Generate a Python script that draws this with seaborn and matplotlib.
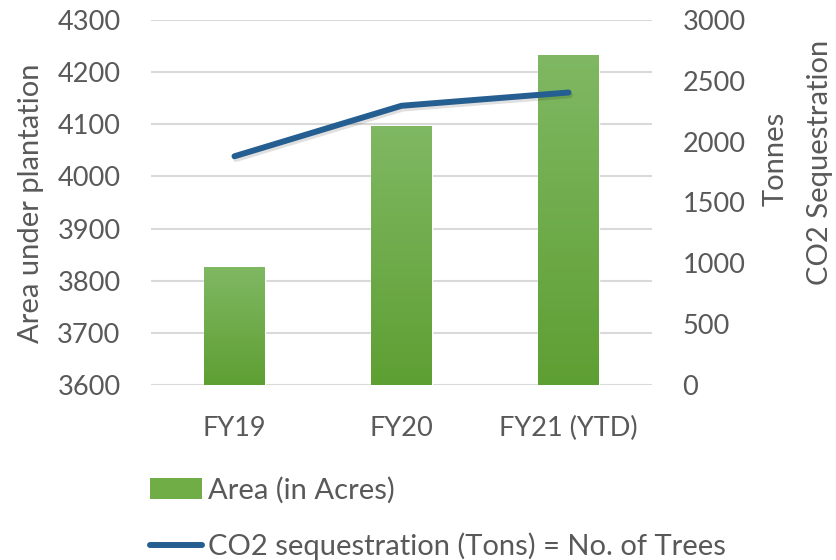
import numpy as np
import seaborn as sns
import matplotlib.pyplot as plt
from matplotlib.lines import Line2D
from matplotlib.patches import Patch
from matplotlib.colors import LinearSegmentedColormap
import matplotlib.patheffects as pe

# data
years = ["FY19", "FY20", "FY21 (YTD)"]
area_acres = [3827, 4097, 4233]
co2_tons = [1880, 2295, 2404]

sns.set_style("white")
plt.rcParams["font.family"] = ["Lato", "DejaVu Sans"]
grey = "#595959"
green = "#70AD47"
blue = "#255E91"

fig = plt.figure(figsize=(8.36, 5.6), dpi=100)
ax = fig.add_axes([151 / 836, 1 - 385 / 560, (652 - 151) / 836, 365 / 560])

sns.barplot(x=years, y=area_acres, ax=ax, color=green, width=0.36,
            saturation=1, zorder=2)
ax.set_ylim(3600, 4300)
ax.set_yticks(range(3600, 4301, 100))
ax.yaxis.grid(True, color="#d9d9d9", lw=1.5)
ax.set_axisbelow(True)

# vertical gradient on each bar
cmap = LinearSegmentedColormap.from_list("g", ["#5e9f33", "#80b863"])
grad = np.linspace(0, 1, 256).reshape(-1, 1)
for p in ax.patches:
    x0, w = p.get_x(), p.get_width()
    y0 = max(p.get_y(), ax.get_ylim()[0])
    y1 = p.get_y() + p.get_height()
    im = ax.imshow(grad, cmap=cmap, origin="lower", aspect="auto",
                   extent=[x0, x0 + w, y0, y1], zorder=3)
    im.set_clip_path(p)
ax.set_xlim(-0.5, 2.5)
ax.set_ylim(3600, 4300)

ax2 = ax.twinx()
sns.lineplot(x=years, y=co2_tons, ax=ax2, color=blue, lw=4.3,
             solid_capstyle="round", solid_joinstyle="round",
             path_effects=[pe.SimpleLineShadow(offset=(1, -2), alpha=0.12),
                           pe.Normal()])
ax2.set_ylim(0, 3000)
ax2.set_yticks(range(0, 3001, 500))

for a in (ax, ax2):
    sns.despine(ax=a, left=True, right=True, top=True, bottom=True)
    a.tick_params(length=0, labelsize=19.5, labelcolor=grey)
ax.tick_params(axis="y", pad=22)
ax.tick_params(axis="x", pad=22)
ax2.tick_params(axis="y", pad=22)

ax.set_xlabel("")
ax.set_ylabel("")
ax2.set_ylabel("")
fig.text(31 / 836, 1 - 203 / 560, "Area under plantation", rotation=90,
         ha="center", va="center", fontsize=21, color=grey)
fig.text(776 / 836, 1 - 159 / 560, "Tonnes", rotation=90,
         ha="center", va="center", fontsize=21, color=grey)
fig.text(820 / 836, 1 - 162 / 560, "CO2 Sequestration", rotation=90,
         ha="center", va="center", fontsize=21, color=grey)

handles = [Patch(facecolor=green, edgecolor="none"),
           Line2D([], [], color=blue, lw=4.3, solid_capstyle="round")]
labels = ["Area (in Acres)", "CO2 sequestration (Tons) = No. of Trees"]
fig.legend(handles, labels, loc="upper left", frameon=False,
           bbox_to_anchor=(138 / 836, 1 - 465 / 560), fontsize=21,
           labelcolor=grey, handlelength=1.8, handletextpad=0.2,
           labelspacing=1.0, borderaxespad=0)

fig.savefig("out.png", dpi=100)
